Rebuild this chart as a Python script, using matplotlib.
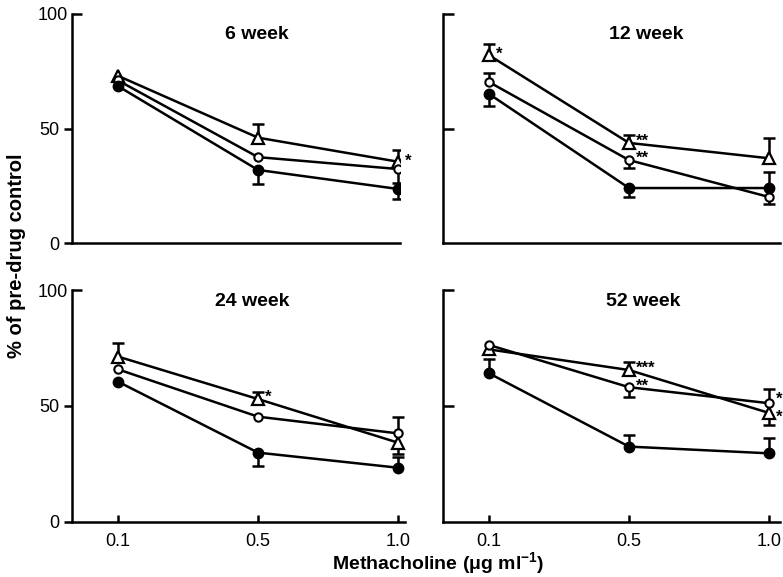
import numpy as np
import matplotlib.pyplot as plt

# Methacholine doses and panel titles
doses = ['0.1', '0.5', '1.0']
weeks = ['6 week', '12 week', '24 week', '52 week']

# % of pre-drug control, one row per panel
tri_vals = [[73.0, 46.0, 35.5], [82.0, 43.7, 37.0], [71.3, 53.0, 34.2], [74.4, 65.5, 47.0]]
open_vals = [[71.0, 37.5, 32.3], [70.3, 36.2, 20.1], [65.8, 45.4, 38.2], [76.3, 58.1, 51.2]]
fill_vals = [[68.5, 31.9, 23.6], [65.1, 24.0, 24.0], [60.5, 29.9, 23.4], [64.1, 32.5, 29.6]]

# one-sided SEM bars: + drawn upwards, - drawn downwards, 0 = none
tri_err = [[0, 6.0, 5.0], [5.0, 3.5, 9.0], [6.0, 3.0, -5.0], [0, 3.6, -5.0]]
open_err = [[0, 0, -6.0], [4.0, -3.5, -3.0], [0, 0, 7.0], [0, -4.3, 6.0]]
fill_err = [[0, -6.0, -4.6], [-5.3, -4.0, 7.0], [0, -5.6, 4.8], [6.2, 5.0, 6.5]]

# significance stars: (panel, series, dose index, text, vertical nudge in points)
stars = [(0, 'tri', 2, '*', 0),
         (1, 'tri', 0, '*', 1), (1, 'tri', 1, '**', 1), (1, 'open', 1, '**', 1),
         (2, 'tri', 1, '*', 1),
         (3, 'tri', 1, '***', 1), (3, 'open', 1, '**', 1),
         (3, 'open', 2, '*', 3), (3, 'tri', 2, '*', -3)]

plt.rcParams['font.family'] = ['Liberation Sans', 'DejaVu Sans']
plt.rcParams['mathtext.default'] = 'regular'

fig = plt.figure(figsize=(7.83, 5.77), dpi=100)
W, H = 783.0, 577.0
# axes boxes in pixels: left, right, bottom(y=0), top(y=100)
boxes = [(72, 400, 243, 14), (443, 780, 243, 14),
         (72, 405, 522, 290), (443, 780, 522, 290)]
title_pos = [(0.99, 91), (1.12, 91), (0.96, 95), (1.1, 95)]
lw = 1.8

x = np.arange(len(doses))
for i, (l, r, b, t) in enumerate(boxes):
    ax = fig.add_axes([l / W, 1 - b / H, (r - l) / W, (b - t) / H])
    span = (r - l) / 140.0
    ax.set_xlim(-46 / 140.0, -46 / 140.0 + span)
    ax.set_ylim(0, 100)
    for s in ['top', 'right']:
        ax.spines[s].set_visible(False)
    for s in ['left', 'bottom']:
        ax.spines[s].set_linewidth(lw)

    series = {'tri': (tri_vals[i], tri_err[i]),
              'open': (open_vals[i], open_err[i]),
              'fill': (fill_vals[i], fill_err[i])}
    for key, (vals, errs) in series.items():
        vals = np.array(vals)
        errs = np.array(errs)
        ax.plot(x, vals, color='black', lw=lw, zorder=2)
        has = errs != 0
        ends = vals + errs
        ax.vlines(x[has], vals[has], ends[has], color='black', lw=lw, zorder=2)
        ax.plot(x[has], ends[has], ls='', marker='_', ms=9, mew=lw,
                color='black', zorder=2)
        if key == 'tri':
            ax.plot(x, vals, ls='', marker='^', ms=9, mfc='white',
                    mec='black', mew=1.6, zorder=4)
        elif key == 'open':
            ax.plot(x, vals, ls='', marker='o', ms=6, mfc='white',
                    mec='black', mew=1.5, zorder=4)
        else:
            ax.plot(x, vals, ls='', marker='o', ms=7.5, mfc='black',
                    mec='black', zorder=4)

    for p, key, j, txt, dy in stars:
        if p != i:
            continue
        yv = series[key][0][j]
        ax.annotate(txt, (x[j], yv), xytext=(5, dy), textcoords='offset points',
                    fontsize=12, fontweight='bold', va='center', ha='left',
                    annotation_clip=False)

    tx, ty = title_pos[i]
    ax.text(tx, ty, weeks[i], ha='center', va='center', fontsize=14,
            fontweight='bold')

    # y ticks: 0/50 outward, 100 inward on the left panels
    if i in (0, 2):
        ax.set_yticks([0, 50])
        ax.set_yticklabels(['0', '50'], fontsize=13)
        ax.tick_params(axis='y', which='major', direction='out', length=6,
                       width=lw, pad=3)
        ax.set_yticks([100], minor=True)
        ax.set_yticklabels(['100'], minor=True, fontsize=13)
        ax.tick_params(axis='y', which='minor', direction='in', length=7,
                       width=lw, pad=3)
    else:
        ax.set_yticks([50, 100])
        ax.set_yticklabels([])
        ax.tick_params(axis='y', direction='in', length=8, width=lw)

    if i in (2, 3):
        ax.set_xticks(x)
        ax.set_xticklabels(doses, fontsize=13)
        ax.tick_params(axis='x', direction='in', length=5, width=lw, pad=8)
    else:
        ax.set_xticks([])

fig.text(17 / W, 1 - 256 / H, '% of pre-drug control', rotation=90,
         ha='center', va='center', fontsize=14.5, fontweight='bold')
fig.text(438 / W, 1 - 563 / H, 'Methacholine (\u03bcg ml$^{-1}$)',
         ha='center', va='center', fontsize=14, fontweight='bold')

fig.savefig('out.png', dpi=100)
